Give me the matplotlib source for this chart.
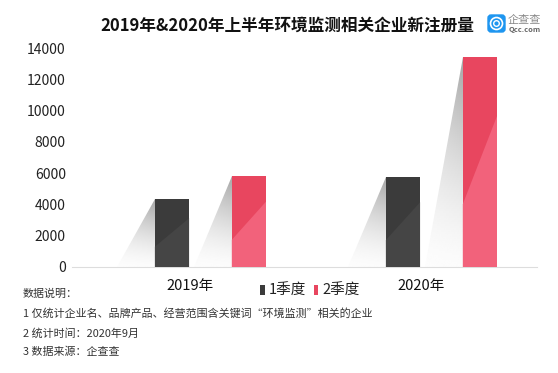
import matplotlib

matplotlib.use("Agg")
import matplotlib.pyplot as plt
import numpy as np
from matplotlib.patches import Circle, FancyBboxPatch, Polygon

plt.rcParams["font.family"] = ["Noto Sans CJK SC", "DejaVu Sans"]

W, H = 558, 373

# --- data ---------------------------------------------------------------
years = ["2019年", "2020年"]
q1_values = [4330, 5750]
q2_values = [5800, 13400]
q1_label = "1季度"
q2_label = "2季度"
y_ticks = [0, 2000, 4000, 6000, 8000, 10000, 12000, 14000]
title = "2019年&2020年上半年环境监测相关企业新注册量"
notes = [
    "数据说明\uff1a",
    "1 仅统计企业名、品牌产品、经营范围含关键词“环境监测”相关的企业",
    "2 统计时间\uff1a2020年9月",
    "3 数据来源\uff1a企查查",
]

# --- style --------------------------------------------------------------
DARK, DARK_LIGHT = "#3B3B3B", "#454545"
RED, RED_LIGHT = "#E8465F", "#F2627B"
BAR_W = 0.148
Q1_OFF, Q2_OFF = -0.078, 0.255
SHADOW_DX = 0.165  # horizontal reach of the fake 3D shadow, in category units


def px(x, y):
    """Figure fraction from reference pixel coordinates."""
    return x / W, 1 - y / H


def draw_shadow(ax, left, top):
    # triangle from the bar's top-left corner down to the baseline
    tri = Polygon(
        [(left, top), (left, 0), (left - SHADOW_DX, 0)],
        closed=True,
        transform=ax.transData,
        facecolor="none",
        edgecolor="none",
    )
    ax.add_patch(tri)
    xx, yy = np.meshgrid(np.linspace(0, 1, 60), np.linspace(0, 1, 100))
    shade = (0.015 + 0.34 * yy**1.4) * (0.65 + 0.35 * xx)
    img = ax.imshow(
        shade,
        origin="lower",
        extent=(left - SHADOW_DX, left, 0, top),
        cmap="gray_r",
        vmin=0,
        vmax=1,
        aspect="auto",
        zorder=1,
        interpolation="bilinear",
    )
    img.set_clip_path(tri)


def draw_facet(ax, left, top, color):
    # lighter lower-right half of each bar
    ax.add_patch(
        Polygon(
            [
                (left, 0),
                (left + BAR_W, 0),
                (left + BAR_W, top * 0.72),
                (left, top * 0.30),
            ],
            closed=True,
            facecolor=color,
            edgecolor="none",
            zorder=3,
        )
    )


fig = plt.figure(figsize=(W / 100, H / 100), dpi=100)
ax = fig.add_axes([72 / W, 1 - 267 / H, (537 - 72) / W, (267 - 48) / H])

x = np.arange(len(years))
ax.bar(x + Q1_OFF, q1_values, BAR_W, color=DARK, label=q1_label, zorder=2)
ax.bar(x + Q2_OFF, q2_values, BAR_W, color=RED, label=q2_label, zorder=2)

for xi, v1, v2 in zip(x, q1_values, q2_values):
    for off, val, light in ((Q1_OFF, v1, DARK_LIGHT), (Q2_OFF, v2, RED_LIGHT)):
        left = xi + off - BAR_W / 2
        draw_shadow(ax, left, val)
        draw_facet(ax, left, val, light)

ax.set_xlim((72 - 190) / 231, (537 - 190) / 231)
ax.set_ylim(0, 14000)
ax.set_yticks(y_ticks)
ax.set_xticks(x, years)
ax.tick_params(axis="y", length=0, pad=4.5, labelsize=10, labelcolor="#222222")
ax.tick_params(axis="x", length=0, pad=8.5, labelsize=10.5, labelcolor="#111111")
for name in ("top", "right", "left"):
    ax.spines[name].set_visible(False)
ax.spines["bottom"].set_color("#DDDDDD")
ax.spines["bottom"].set_linewidth(0.8)
ax.patch.set_alpha(0)

ax.legend(
    loc="center left",
    bbox_to_anchor=px(247, 291),
    bbox_transform=fig.transFigure,
    ncol=2,
    frameon=False,
    fontsize=10.5,
    handlelength=0.3,
    handleheight=0.7,
    handletextpad=0.3,
    columnspacing=0.5,
    labelcolor="#222222",
)

fig.text(*px(287, 26), title, fontsize=12, fontweight="bold", color="#111111",
         ha="center", va="center")

for (note, y) in zip(notes, (294, 313, 333, 352)):
    fig.text(*px(23, y), note, fontsize=7.9, color="#333333", ha="left", va="center")

# --- logo ---------------------------------------------------------------
logo = fig.add_axes([0, 0, 1, 1], facecolor="none")
logo.set_xlim(0, W)
logo.set_ylim(H, 0)
logo.axis("off")
logo.add_patch(FancyBboxPatch((488, 15), 17, 17, boxstyle="round,pad=0,rounding_size=3",
                              facecolor="#1E96F0", edgecolor="#1E96F0", linewidth=1))
logo.add_patch(Circle((496.5, 23.5), 6, facecolor="none", edgecolor="white", linewidth=1.2))
logo.add_patch(Circle((496.5, 23.5), 2.8, facecolor="none", edgecolor="white", linewidth=1))
logo.text(508, 20, "企查查", fontsize=8, color="#8A8A8A", ha="left", va="center")
logo.text(509, 29.5, "Qcc.com", fontsize=5.4, color="#666666", ha="left", va="center",
          fontweight="bold")

fig.savefig("out.png", dpi=100, facecolor="white")
plt.close(fig)
